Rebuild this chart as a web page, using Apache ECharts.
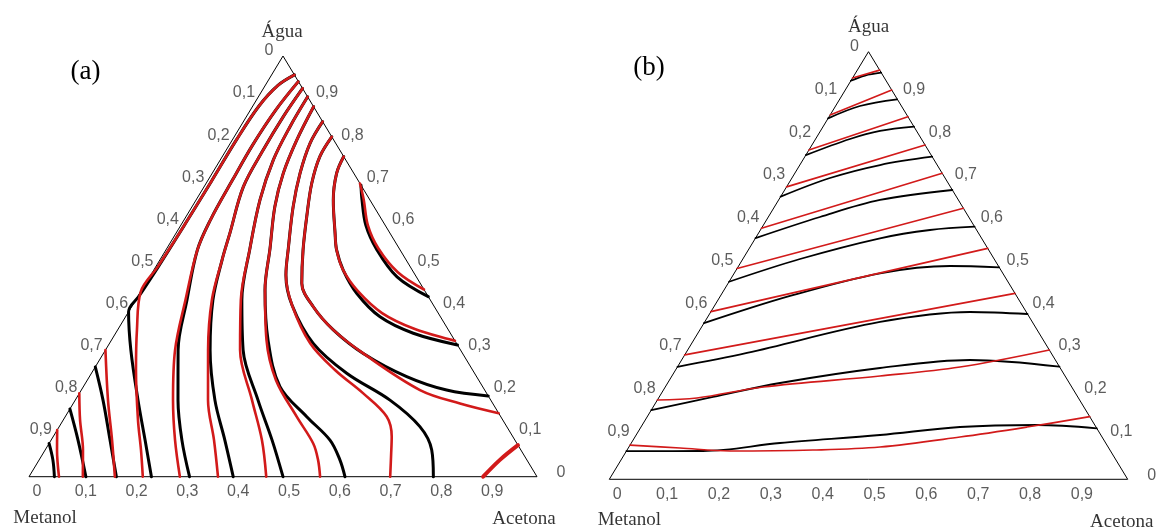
<!DOCTYPE html>
<html>
<head>
<meta charset="utf-8">
<script src="https://cdn.jsdelivr.net/npm/echarts@6/dist/echarts.min.js"></script>
<style>
html,body{margin:0;padding:0;background:#ffffff;}
#chart{width:1159px;height:530px;}
</style>
</head>
<body>
<div id="chart"></div>
<script>
// ---------- tick values / labels ----------
const ticks = [0, 0.1, 0.2, 0.3, 0.4, 0.5, 0.6, 0.7, 0.8, 0.9];
const tickLabels = ['0', '0,1', '0,2', '0,3', '0,4', '0,5', '0,6', '0,7', '0,8', '0,9'];
const vertexNames = ['Água', 'Metanol', 'Acetona'];
const panelTags = ['(a)', '(b)'];

// ---------- panel (a): curves as [acetona, água] mole fractions ----------
const aBlk1 = [[0, .079], [.027, .04], [.05, 0]];
const aRed1 = [[0, .111], [.0234, .0635], [.059, 0]];
const aBlk2 = [[0, .161], [.053, .087], [.112, 0]];
const aRed2 = [[0, .198], [.033, .135], [.0745, .0635], [.106, 0]];
const aBlk3 = [[0, .261], [.0547, .182], [.116, .087], [.172, 0]];
const aRed3 = [[0, .301], [.0645, .182], [.120, .087], [.169, 0]];
const aBlk4 = [[.045, .955], [.025, .93], [.012, .88], [.008, .8], [.008, .7], [.007, .6], [.005, .5], [.002, .43], [0, .392], [.05, .301], [.1236, .182], [.185, .087], [.241, 0]];
const aRed4 = [[.045, .955], [.025, .93], [.012, .88], [.008, .8], [.008, .7], [.007, .6], [.004, .5], [0, .44], [.038, .349], [.0836, .254], [.147, .135], [.1887, .0635], [.224, 0]];
const aBlk5 = [[.0605, .939], [.050, .872], [.046, .79], [.048, .705], [.052, .61], [.062, .539], [.101, .420], [.143, .301], [.2023, .182], [.2575, .087], [.316, 0]];
const aRed5 = [[.0605, .939], [.050, .872], [.046, .79], [.048, .705], [.052, .61], [.062, .539], [.098, .420], [.137, .301], [.1925, .182], [.244, .087], [.297, 0]];
const aBlk6 = [[.077, .923], [.0726, .856], [.0727, .777], [.0774, .689], [.106, .579], [.1225, .515], [.152, .420], [.206, .301], [.275, .182], [.342, .087], [.402, 0]];
const aRed6 = [[.077, .923], [.0726, .856], [.0727, .777], [.0774, .689], [.106, .579], [.1225, .515], [.150, .420], [.202, .301], [.2614, .182], [.3207, .087], [.372, 0]];
const aBlk7 = [[.097, .903], [.0978, .832], [.1045, .753], [.1257, .658], [.1635, .543], [.209, .420], [.271, .301], [.3598, .182], [.435, .087], [.5, 0]];
const aRed7 = [[.097, .903], [.0978, .832], [.1045, .753], [.1257, .658], [.1635, .543], [.207, .420], [.265, .301], [.348, .182], [.415, .087], [.467, 0]];
const aBlk8 = [[.1205, .8795], [.127, .800], [.140, .721], [.163, .642], [.203, .543], [.2426, .444], [.308, .325], [.387, .214], [.4754, .1426], [.549, .087], [.592, .040], [.622, 0]];
const aRed8 = [[.1205, .8795], [.127, .800], [.140, .721], [.163, .642], [.203, .543], [.2426, .444], [.305, .325], [.371, .230], [.4557, .1426], [.520, .079], [.549, .040], [.573, 0]];
const aBlk9 = [[.156, .844], [.157, .7925], [.173, .721], [.199, .642], [.239, .543], [.266, .4795], [.3137, .408], [.401, .317], [.5024, .246], [.6196, .182], [.710, .119], [.761, .0635], [.796, 0]];
const aRed9 = [[.156, .844], [.157, .7925], [.173, .721], [.199, .642], [.239, .543], [.266, .4795], [.3137, .408], [.395, .317], [.4756, .2536], [.559, .198], [.6325, .143], [.6665, .095], [.687, .0516], [.711, 0]];
const aBlk10 = [[.192, .808], [.192, .761], [.208, .697], [.2377, .618], [.270, .539], [.307, .460], [.3576, .404], [.4245, .349], [.5115, .293], [.6245, .238], [.719, .206], [.808, .192]];
const aRed10 = [[.192, .808], [.192, .761], [.208, .697], [.2377, .618], [.270, .539], [.307, .460], [.3576, .404], [.4245, .349], [.5115, .293], [.6667, .206], [.7614, .174], [.849, .151]];
const aBlk11 = [[.239, .761], [.245, .721], [.270, .658], [.313, .579], [.336, .539], [.373, .491], [.427, .436], [.501, .380], [.586, .341], [.687, .313]];
const aRed11 = [[.239, .761], [.245, .721], [.270, .658], [.313, .579], [.336, .539], [.373, .491], [.427, .441], [.5005, .389], [.584, .351], [.677, .323]];
const aBlk12 = [[.307, .693], [.3265, .658], [.364, .598], [.4155, .539], [.487, .475], [.572, .428]];
const aRed12 = [[.303, .697], [.330, .658], [.368, .598], [.416, .543], [.483, .486], [.555, .445]];
const aRed13 = [[.894, 0], [.907, .040], [.925, .075]];

// ---------- panel (b): curves as [acetona, água] mole fractions ----------
const bBlk1 = [[0, .932], [.021, .9443], [.049, .951]];
const bRed1 = [[0, .9385], [.043, .957]];
const bBlk2 = [[0, .844], [.047, .873], [.111, .8887]];
const bRed2 = [[0, .852], [.0896, .9104]];
const bBlk3 = [[0, .758], [.0664, .7958], [.1149, .8146], [.1754, .8246]];
const bRed3 = [[0, .770], [.152, .848]];
const bBlk4 = [[0, .661], [.0734, .7046], [.1547, .735], [.2456, .7544]];
const bRed4 = [[0, .684], [.2182, .7818]];
const bBlk5 = [[0, .564], [.0997, .6134], [.1956, .6532], [.3234, .6766]];
const bRed5 = [[0, .587], [.2844, .7156]];
const bBlk6 = [[0, .462], [.1103, .5152], [.2404, .5636], [.3271, .583], [.4093, .5907]];
const bRed6 = [[0, .493], [.3662, .6338]];
const bBlk7 = [[0, .365], [.1343, .4287], [.2813, .4818], [.4078, .4988], [.5042, .4958]];
const bRed7 = [[0, .392], [.4598, .5402]];
const bBlk8 = [[0, .263], [.1179, .2954], [.3383, .3679], [.5002, .3913], [.6134, .3866]];
const bRed8 = [[0, .291], [.565, .435]];
const bBlk9 = [[0, .162], [.1038, .1925], [.2167, .2252], [.3921, .2603], [.5563, .279], [.7367, .2633]];
const bRed9 = [[0, .1855], [.0741, .1901], [.1886, .2159], [.4014, .2416], [.5452, .2626], [.6976, .3024]];
const bBlk10 = [[0, .066], [.1476, .0662], [.2869, .0849], [.4704, .1036], [.6153, .1223], [.7615, .127], [.8807, .1193]];
const bRed10 = [[0, .080], [.0998, .0732], [.1997, .0662], [.3586, .0685], [.4844, .0755], [.627, .0989], [.7445, .1223], [.8536, .1464]];

const aBlack = [aBlk1, aBlk2, aBlk3, aBlk4, aBlk5, aBlk6, aBlk7, aBlk8, aBlk9, aBlk10, aBlk11, aBlk12];
const aRed = [aRed1, aRed2, aRed3, aRed4, aRed5, aRed6, aRed7, aRed8, aRed9, aRed10, aRed11, aRed12, aRed13];
const bBlack = [bBlk1, bBlk2, bBlk3, bBlk4, bBlk5, bBlk6, bBlk7, bBlk8, bBlk9, bBlk10];
const bRed = [bRed1, bRed2, bRed3, bRed4, bRed5, bRed6, bRed7, bRed8, bRed9, bRed10];

// ---------- ternary -> cartesian (x along base, y = água) ----------
function xy(p) { return [p[0] + p[1] / 2, p[1]]; }

const BLACK = '#000000';
const RED = '#d21a1a';

function curveSeries(pts, gi, color, width, smooth, z) {
  return {
    type: 'line', xAxisIndex: gi, yAxisIndex: gi,
    data: pts.map(xy), symbol: 'none', showSymbol: false,
    smooth: smooth, clip: false, silent: true, animation: false, z: z,
    lineStyle: { color: color, width: width, cap: 'round', join: 'round' }
  };
}

function frameSeries(gi) {
  const corners = [[0, 0], [1, 0], [0, 1], [0, 0]];
  return {
    type: 'line', xAxisIndex: gi, yAxisIndex: gi, data: corners.map(xy),
    symbol: 'none', clip: false, silent: true, animation: false, z: 1,
    lineStyle: { color: '#000', width: 1 }
  };
}

function tickSeries(gi, cfg) {
  const data = [];
  ticks.forEach(function (t, i) {
    data.push({ value: xy([0, 1 - t]), label: { position: 'left', distance: i === 0 ? cfg.topDist : cfg.leftDist, offset: [0, -5], formatter: tickLabels[i] } });
    data.push({ value: xy([1 - t, t]), label: { position: 'right', distance: i === 0 ? cfg.cornerDist : cfg.rightDist, offset: [0, i === 0 ? -4 : -5], formatter: tickLabels[i] } });
    data.push({ value: xy([t, 0]), label: { position: 'bottom', distance: cfg.bottomDist, offset: [i === 0 ? 8 : 6, 0], formatter: tickLabels[i] } });
  });
  return {
    type: 'scatter', xAxisIndex: gi, yAxisIndex: gi, symbolSize: 1, clip: false,
    silent: true, animation: false, itemStyle: { color: 'rgba(0,0,0,0)' },
    label: { show: true, color: '#333333', fontFamily: 'Liberation Sans, Arial, sans-serif', fontSize: 16 },
    data: data, z: 5
  };
}

function vertexSeries(gi, offs) {
  const pos = [[0, 1], [0, 0], [1, 0]]; // Água, Metanol, Acetona
  return {
    type: 'scatter', xAxisIndex: gi, yAxisIndex: gi, symbolSize: 1, clip: false,
    silent: true, animation: false, itemStyle: { color: 'rgba(0,0,0,0)' },
    label: { show: true, position: 'inside', color: '#000', fontFamily: 'Liberation Serif, Times New Roman, serif', fontSize: 19 },
    data: pos.map(function (p, i) { return { value: xy(p), label: { formatter: vertexNames[i], offset: offs[i] } }; }),
    z: 5
  };
}

const series = [];
series.push(frameSeries(0), frameSeries(1));
aBlack.forEach(function (c) { series.push(curveSeries(c, 0, BLACK, 3, 0.35, 2)); });
aRed.forEach(function (c, i) { series.push(curveSeries(c, 0, RED, i === 12 ? 4 : 2.6, 0.35, 3)); });
bBlack.forEach(function (c) { series.push(curveSeries(c, 1, BLACK, 1.8, 0.35, 2)); });
bRed.forEach(function (c) { series.push(curveSeries(c, 1, RED, 1.7, 0.35, 3)); });
series.push(tickSeries(0, { topDist: 9, leftDist: 2, rightDist: 7, cornerDist: 19, bottomDist: 6 }));
series.push(tickSeries(1, { topDist: 9, leftDist: 5, rightDist: 8, cornerDist: 19, bottomDist: 7 }));
series.push(vertexSeries(0, [[-1, -24], [16, 41], [-13, 42]]));
series.push(vertexSeries(1, [[0, -25], [20, 41], [-6, 43]]));

const chart = echarts.init(document.getElementById('chart'), null, { renderer: 'canvas' });
chart.setOption({
  animation: false,
  backgroundColor: '#ffffff',
  grid: [
    { left: 29, top: 56, width: 508, height: 420.7 },
    { left: 609.3, top: 51.7, width: 518.4, height: 427.6 }
  ],
  xAxis: [
    { type: 'value', gridIndex: 0, min: 0, max: 1, show: false },
    { type: 'value', gridIndex: 1, min: 0, max: 1, show: false }
  ],
  yAxis: [
    { type: 'value', gridIndex: 0, min: 0, max: 1, show: false },
    { type: 'value', gridIndex: 1, min: 0, max: 1, show: false }
  ],
  graphic: [
    { type: 'text', x: 85.5, y: 72, style: { text: panelTags[0], font: '27px "Liberation Serif", serif', fill: '#000', align: 'center', verticalAlign: 'middle' } },
    { type: 'text', x: 649, y: 68, style: { text: panelTags[1], font: '27px "Liberation Serif", serif', fill: '#000', align: 'center', verticalAlign: 'middle' } }
  ],
  series: series
});
</script>
</body>
</html>
